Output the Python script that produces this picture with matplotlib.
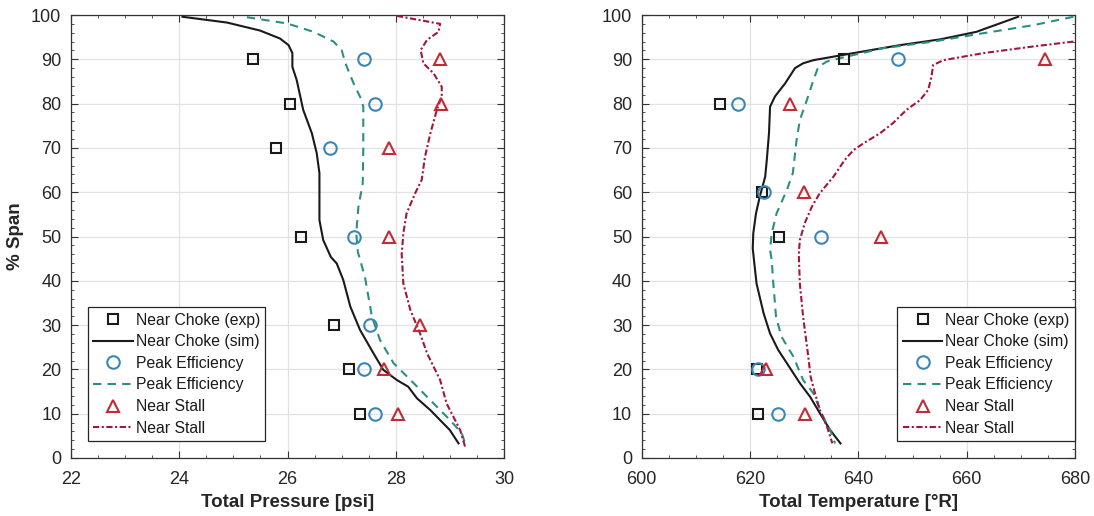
import numpy as np
import matplotlib
matplotlib.use("Agg")
import matplotlib.pyplot as plt
from matplotlib.ticker import MultipleLocator

plt.rcParams['font.family'] = ['Liberation Sans', 'DejaVu Sans']

nan = np.nan
# ---------------- experimental points ----------------
exp_span = [90, 80, 70, 60, 50, 30, 20, 10]
# Total pressure [psi]
p_choke_exp = [25.36, 26.04, 25.79, nan, 26.25, 26.85, 27.13, 27.34]
p_peak_exp = [27.41, 27.61, 26.79, nan, 27.23, 27.53, 27.41, 27.61]
p_stall_exp = [28.81, 28.84, 27.87, nan, 27.88, 28.44, 27.79, 28.05]
# Total temperature [R]
t_choke_exp = [637.4, 614.5, nan, 622.2, 625.4, nan, 621.3, 621.5]
t_peak_exp = [647.4, 617.7, nan, 622.5, 633.1, nan, 621.5, 625.2]
t_stall_exp = [674.5, 627.3, nan, 630.0, 644.1, nan, 622.9, 630.1]

# ---------------- simulation profiles ----------------
p_choke_span = [99.6, 98.3, 96.5, 94.7, 93.2, 91.4, 88.3, 85.3, 78.6, 73.3, 68.8, 64.3, 58.2, 53.7, 49.2, 45.4,
                43.9, 40.2, 34.2, 28.9, 23.6, 19.9, 17.6, 16.1, 13.5, 10.8, 6.3, 3.3]
p_choke_sim = [24.06, 24.88, 25.49, 25.86, 26.02, 26.09, 26.09, 26.17, 26.29, 26.45, 26.54, 26.59, 26.59, 26.59,
               26.66, 26.80, 26.91, 27.03, 27.16, 27.34, 27.59, 27.77, 28.02, 28.23, 28.39, 28.64, 29.00, 29.16]
p_peak_span = [99.5, 98.1, 96.2, 94.0, 92.1, 89.1, 84.6, 80.8, 79.3, 69.5, 62.0, 56.7, 50.7, 46.5,
               40.9, 31.9, 26.6, 21.4, 16.9, 12.3, 8.6, 5.6, 3.3]
p_peak_sim = [25.25, 25.99, 26.48, 26.85, 27.00, 27.07, 27.22, 27.37, 27.40, 27.40, 27.39, 27.31, 27.27, 27.30,
              27.43, 27.56, 27.71, 27.96, 28.33, 28.70, 29.00, 29.22, 29.28]
p_stall_span = [99.8, 98.0, 96.2, 94.4, 92.1, 89.1, 86.8, 83.8, 81.6, 78.6, 73.3, 68.0, 62.8, 59.8, 55.2, 50.7,
                46.0, 39.4, 33.4, 28.1, 23.6, 17.6, 12.3, 6.3, 2.6]
p_stall_sim = [28.02, 28.82, 28.79, 28.58, 28.46, 28.51, 28.70, 28.85, 28.85, 28.76, 28.64, 28.54, 28.48, 28.36,
               28.20, 28.14, 28.11, 28.14, 28.27, 28.45, 28.58, 28.82, 28.94, 29.19, 29.28]

t_choke_span = [99.6, 96.2, 94.5, 93.2, 91.4, 89.8, 89.1, 88.0, 84.6, 81.6, 79.3, 73.3, 67.3, 63.5, 59.0, 55.2,
                50.7, 47.3, 39.4, 32.7, 28.1, 24.4, 21.4, 16.9, 13.8, 10.1, 6.3, 3.3]
t_choke_sim = [669.5, 661.8, 655.1, 647.7, 639.1, 631.7, 629.8, 628.3, 626.5, 624.6, 623.7, 623.5, 623.1, 622.8,
               621.8, 621.1, 620.6, 620.5, 621.2, 622.5, 623.7, 625.2, 626.8, 629.2, 631.1, 632.9, 634.8, 636.7]
t_peak_span = [99.6, 97.7, 95.9, 94.0, 92.5, 90.6, 89.5, 88.3, 85.3, 80.8, 76.3, 71.8, 64.3, 60.5, 55.2, 50.7,
               47.0, 44.7, 39.4, 31.9, 27.4, 22.9, 17.6, 14.6, 10.1, 6.3, 3.3]
t_peak_sim = [679.7, 672.3, 663.1, 653.8, 644.6, 637.8, 634.2, 632.6, 631.7, 630.5, 629.2, 628.6, 627.9, 626.8,
              624.9, 624.0, 623.7, 624.0, 624.3, 624.8, 625.8, 628.0, 629.8, 631.7, 633.2, 634.8, 635.7]
t_stall_span = [94.0, 92.9, 91.4, 89.8, 88.7, 86.1, 83.1, 80.8, 78.6, 75.6, 73.3, 71.0, 69.5, 67.3, 63.5, 59.8,
                56.7, 53.0, 49.2, 46.0, 39.4, 31.9, 24.4, 18.3, 14.6, 10.8, 7.1, 3.3]
t_stall_sim = [679.7, 672.3, 663.1, 655.7, 653.8, 653.5, 652.9, 651.4, 648.9, 646.4, 644.0, 640.9, 639.1, 637.5,
               635.4, 632.9, 631.4, 630.1, 629.2, 629.0, 629.2, 629.8, 630.6, 631.2, 632.0, 632.9, 634.2, 635.2]

labels = ["Near Choke (exp)", "Near Choke (sim)", "Peak Efficiency", "Peak Efficiency", "Near Stall", "Near Stall"]

C_BLACK = "#1a1a1a"
C_CIRC = "#3a86b8"
C_TEAL = "#2a8f82"
C_TRI = "#c42a36"
C_STALL = "#a3163a"

fig = plt.figure(figsize=(10.94, 5.16), dpi=100)
ax1 = fig.add_axes([71 / 1094, 58 / 516, 433 / 1094, 443 / 516])
ax2 = fig.add_axes([641.7 / 1094, 58 / 516, 433.3 / 1094, 443 / 516])


def draw(ax, ce, pe, se, cs, css, ps, pss, ss, sss):
    ax.plot(ce, exp_span, ls='none', marker='s', ms=6.5, mfc='none', mec=C_BLACK, mew=1.5, label=labels[0], zorder=4)
    ax.plot(cs, css, color=C_BLACK, lw=1.5, label=labels[1], zorder=3)
    ax.plot(pe, exp_span, ls='none', marker='o', ms=9, mfc='none', mec=C_CIRC, mew=1.5, label=labels[2], zorder=4)
    ax.plot(ps, pss, color=C_TEAL, lw=1.5, ls=(0, (4, 3)), label=labels[3], zorder=3)
    ax.plot(se, exp_span, ls='none', marker='^', ms=9, mfc='none', mec=C_TRI, mew=1.5, label=labels[4], zorder=4)
    ax.plot(ss, sss, color=C_STALL, lw=1.5, ls=(0, (3, 1.2, 1, 1.2)), label=labels[5], zorder=3)
    ax.set_ylim(0, 100)
    ax.yaxis.set_major_locator(MultipleLocator(10))
    ax.yaxis.set_minor_locator(MultipleLocator(2))
    ax.grid(True, which='major', color='#e2e2e2', lw=0.9)
    ax.set_axisbelow(True)
    ax.tick_params(which='both', direction='in', top=True, right=True, colors='#333333', labelsize=13,
                   labelcolor='#262626')
    ax.tick_params(which='major', length=5)
    ax.tick_params(which='minor', length=2.5)
    ax.tick_params(axis='x', which='major', pad=9)
    ax.tick_params(axis='y', which='major', pad=7)
    for s in ax.spines.values():
        s.set_color('#333333')
        s.set_linewidth(0.9)


draw(ax1, p_choke_exp, p_peak_exp, p_stall_exp, p_choke_sim, p_choke_span, p_peak_sim, p_peak_span,
     p_stall_sim, p_stall_span)
ax1.set_xlim(22, 30)
ax1.xaxis.set_major_locator(MultipleLocator(2))
ax1.xaxis.set_minor_locator(MultipleLocator(0.5))
ax1.set_xlabel("Total Pressure [psi]", fontsize=13.5, fontweight='bold', color='#262626', labelpad=5)
ax1.set_ylabel("% Span", fontsize=13.5, fontweight='bold', color='#262626', labelpad=5)

draw(ax2, t_choke_exp, t_peak_exp, t_stall_exp, t_choke_sim, t_choke_span, t_peak_sim, t_peak_span,
     t_stall_sim, t_stall_span)
ax2.set_xlim(600, 680)
ax2.xaxis.set_major_locator(MultipleLocator(20))
ax2.xaxis.set_minor_locator(MultipleLocator(5))
ax2.set_xlabel("Total Temperature [\u00b0R]", fontsize=13.5, fontweight='bold', color='#262626', labelpad=5)

leg_kw = dict(fontsize=11.3, frameon=True, fancybox=False, edgecolor='#262626', framealpha=1,
              handlelength=2.5, handletextpad=0.2, labelspacing=0.42, borderpad=0.35, borderaxespad=0)
l1 = ax1.legend(loc='lower left', bbox_to_anchor=(0.039, 0.038), **leg_kw)
l2 = ax2.legend(loc='lower right', bbox_to_anchor=(1.0, 0.038), **leg_kw)
for l in (l1, l2):
    l.get_frame().set_linewidth(0.9)
    for t in l.get_texts():
        t.set_color('#1a1a1a')

fig.savefig("out.png", dpi=100)
